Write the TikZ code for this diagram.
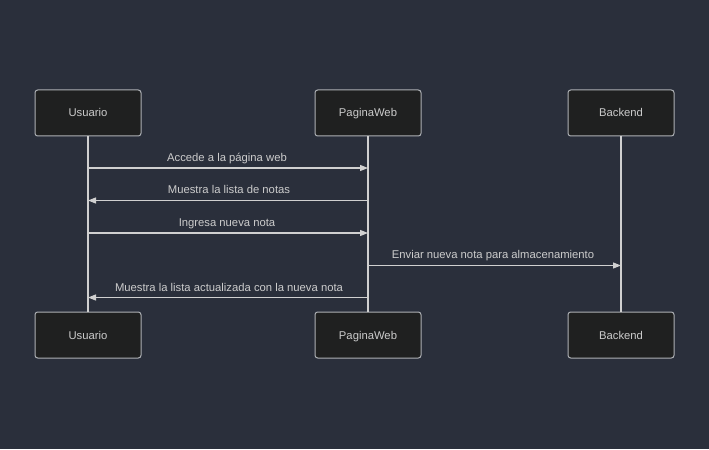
\documentclass[tikz,border=0pt]{standalone}
\usepackage{fontspec}
\setmainfont{Liberation Sans}
\usetikzlibrary{arrows.meta}
\definecolor{bg}{HTML}{2A2F3B}
\definecolor{boxfill}{HTML}{1F2020}
\definecolor{boxline}{HTML}{AEB1B5}
\definecolor{txt}{HTML}{CCCCCC}
\definecolor{ln}{HTML}{D0D0D0}
\begin{document}
\begin{tikzpicture}[x=0.75pt,y=-0.75pt,
  actor/.style={draw=boxline,fill=boxfill,line width=0.75pt,rounded corners=2pt,
    minimum width=106*0.75pt,minimum height=46*0.75pt,inner sep=0pt,
    text height=6.2pt,text depth=0.2pt,
    text=txt,font=\fontsize{8.45pt}{10pt}\selectfont},
  life/.style={draw=ln,line width=0.9pt},
  msg/.style={draw=ln,line width=0.9pt,-{Triangle[length=6pt,width=4.5pt]}},
  lbl/.style={text=txt,font=\fontsize{8.45pt}{10pt}\selectfont,inner sep=0pt,
    text height=6.2pt,text depth=0.6pt}]
\fill[bg] (0,0) rectangle (709,449);
\useasboundingbox (0,0) rectangle (709,449);
% actors
\node[actor] (u1) at (88,113) {Usuario};
\node[actor] (p1) at (368,113) {PaginaWeb};
\node[actor] (b1) at (621,113) {Backend};
\node[actor] (u2) at (88,335) {Usuario};
\node[actor] (p2) at (368,335) {PaginaWeb};
\node[actor] (b2) at (621,335) {Backend};
% lifelines
\draw[life] (u1.south) -- (u2.north);
\draw[life] (p1.south) -- (p2.north);
\draw[life] (b1.south) -- (b2.north);
% message anchors
\coordinate (u168) at (88,168); \coordinate (p168) at (368,168);
\coordinate (u200) at (88,200.5); \coordinate (p200) at (368,200.5);
\coordinate (u233) at (88,233); \coordinate (p233) at (368,233);
\coordinate (p265) at (368,265.5); \coordinate (b265) at (621,265.5);
\coordinate (u297) at (88,297.5); \coordinate (p297) at (368,297.5);
% messages
\draw[msg] (u168) -- (p168);
\node[lbl] (l1) at (227,157.5) {Accede a la página web};
\draw[msg] (p200) -- (u200);
\node[lbl] (l2) at (229,189.5) {Muestra la lista de notas};
\draw[msg] (u233) -- (p233);
\node[lbl] (l3) at (227,222.5) {Ingresa nueva nota};
\draw[msg] (p265) -- (b265);
\node[lbl] (l4) at (493,254.5) {Enviar nueva nota para almacenamiento};
\draw[msg] (p297) -- (u297);
\node[lbl] (l5) at (229,287.5) {Muestra la lista actualizada con la nueva nota};
\end{tikzpicture}
\end{document}
